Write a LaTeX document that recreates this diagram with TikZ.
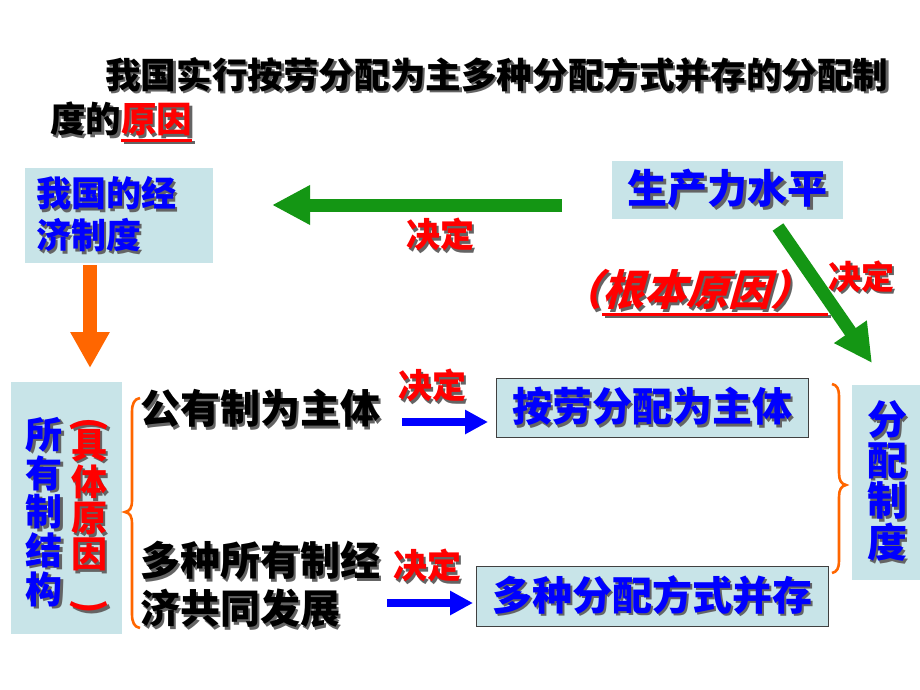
\documentclass[tikz,border=0pt]{standalone}
\usepackage{fontspec}
\setmainfont{Noto Sans CJK SC}
\newfontfamily\slantfont{Noto Sans CJK SC}[FakeSlant=0.28]
\usetikzlibrary{arrows.meta}
\definecolor{boxfill}{RGB}{200,228,232}
\definecolor{tblue}{RGB}{0,0,255}
\definecolor{tred}{RGB}{255,0,0}
\definecolor{agreen}{RGB}{20,150,20}
\definecolor{aorange}{RGB}{255,102,0}
\definecolor{shadowc}{RGB}{100,100,100}
\newcommand\shd[1]{\leavevmode\rlap{\kern2.5pt\raisebox{-2.5pt}{\textcolor{shadowc}{#1}}}#1}
\newcommand\thickul[2]{\setbox0\hbox{#1}\rlap{\rule[-#2]{\wd0}{3pt}}\box0}
\tikzset{
  sz/.style={font=\bfseries\fontsize{#1}{#1}\selectfont},
  szl/.style 2 args={font=\bfseries\fontsize{#1}{#2}\selectfont},
  box/.style={fill=boxfill, inner sep=0pt},
  framedbox/.style={box, draw=black!75, line width=0.9pt},
  bluet/.style={text=tblue},
  redt/.style={text=tred},
  decide/.style={text=tred, sz=34, inner sep=0pt},
  plain/.style={inner sep=0pt},
  garrow/.style={draw=agreen, line width=13pt, -{Triangle[length=38pt,width=37pt]}},
  oarrow/.style={draw=aorange, line width=14pt, -{Triangle[length=36pt,width=37pt]}},
  barrow/.style={draw=tblue, line width=8pt, -{Triangle[length=23pt,width=23pt]}},
  bracestyle/.style={draw=aorange, line width=2.6pt}
}
\begin{document}
\begin{tikzpicture}[x=1pt,y=-1pt]
\useasboundingbox[fill=white] (0,0) rectangle (920,690);

% title
\node[plain, anchor=west, sz=35.6] (t1) at (105,76) {\shd{我国实行按劳分配为主多种分配方式并存的分配制}};
\node[plain, anchor=west, sz=35.5] (t2) at (50,123) {\shd{度的}\textcolor{tred}{\shd{\thickul{原因}{9pt}}}};

% boxes
\node[box, bluet, szl={35}{42}, minimum width=188, minimum height=95, text width=166pt, inner xsep=11pt, align=left] (jj) at (119,215.5) {\shd{我国的经}\\\shd{济制度}};
\node[box, bluet, sz=40, minimum width=231, minimum height=58] (sc) at (727.5,190) {\shd{生产力水平}};
\node[framedbox, bluet, sz=40, minimum width=312, minimum height=59] (ld) at (652,407.5) {\shd{按劳分配为主体}};
\node[framedbox, bluet, sz=40, minimum width=352, minimum height=60] (dz) at (652,596) {\shd{多种分配方式并存}};
\node[box, bluet, szl={40}{39}, minimum width=70, minimum height=195, align=center] (fp) at (887,482.5) {\shd{分}\\\shd{配}\\\shd{制}\\\shd{度}};
\node[box, minimum width=111, minimum height=252] (sy) at (66.5,508) {};
\node[plain, bluet, szl={37}{37.4}, align=center] (sy1) at (44,513) {\shd{所}\\\shd{有}\\\shd{制}\\\shd{结}\\\shd{构}};
\node[plain, redt, szl={36}{36}, align=center] (sy2) at (89,517) {\shd{\rotatebox{-90}{(}}\\[-6pt]\shd{具}\\\shd{体}\\\shd{原}\\\shd{因}\\[-4pt]\shd{\rotatebox{-90}{)}}};

% black texts
\node[plain, anchor=west, sz=40] (gy) at (140,410) {\shd{公有制为主体}};
\node[plain, anchor=west, szl={40}{48}, align=left] (dy) at (140,586) {\shd{多种所有制经}\\\shd{济共同发展}};

% decide labels
\node[decide] (d1) at (440,236) {\shd{决定}};
\node[decide, sz=33] (d2) at (861,278) {\shd{决定}};
\node[decide] (d3) at (432,387) {\shd{决定}};
\node[decide] (d4) at (427,567) {\shd{决定}};

% root cause
\node[plain, redt, font=\slantfont\bfseries\fontsize{42}{42}\selectfont] (gb) at (694,294) {\shd{（\thickul{根本原因）\kern16pt}{10pt}}};

% arrows
\coordinate (g1) at (562,205);
\coordinate (g2) at (272,205);
\draw[garrow] (g1) -- (g2);
\coordinate (g3) at (778,227);
\coordinate (g4) at (872,363);
\draw[garrow] (g3) -- (g4);
\coordinate (o1) at (90,265);
\coordinate (o2) at (90,368);
\draw[oarrow] (o1) -- (o2);
\coordinate (b1) at (402,422);
\coordinate (b2) at (488,422);
\draw[barrow] (b1) -- (b2);
\coordinate (b3) at (387,603);
\coordinate (b4) at (473,603);
\draw[barrow] (b3) -- (b4);

% braces
\draw[bracestyle] (140,398) .. controls (134,399) and (132,404) .. (132,412) -- (132,500)
  .. controls (132,508) and (130,511) .. (125,512)
  .. controls (130,513) and (132,516) .. (132,524) -- (132,614)
  .. controls (132,622) and (134,627) .. (140,628);
\draw[bracestyle] (832,384) .. controls (837,385) and (839,389) .. (839,396) -- (839,473)
  .. controls (839,480) and (841,484) .. (846,485)
  .. controls (841,486) and (839,490) .. (839,497) -- (839,561)
  .. controls (839,568) and (837,572) .. (832,573);
\end{tikzpicture}
\end{document}
